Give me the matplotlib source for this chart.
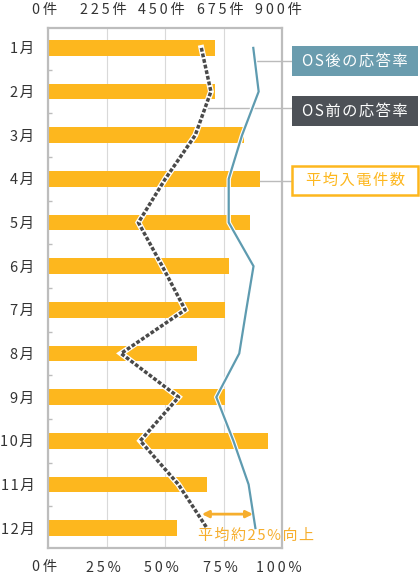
import numpy as np
import matplotlib
matplotlib.use("Agg")
import matplotlib.pyplot as plt
from matplotlib.transforms import ScaledTranslation
from matplotlib.patches import Rectangle

plt.rcParams['font.family'] = ['Noto Sans CJK JP', 'DejaVu Sans']

# ---- data ----
months = ['1月', '2月', '3月', '4月', '5月', '6月', '7月', '8月', '9月', '10月', '11月', '12月']
calls = [641, 641, 754, 814, 776, 696, 680, 571, 680, 845, 610, 495]          # 平均入電件数
rate_before = [65.4, 69.5, 62.8, 50.0, 38.5, 48.7, 58.5, 31.1, 55.7, 39.3, 55.6, 67.8]  # OS前
rate_after = [87.6, 89.9, 82.8, 77.1, 77.1, 87.7, 84.6, 81.6, 71.8, 79.1, 85.6, 88.5]   # OS後
count_ticks = [0, 225, 450, 675, 900]
count_labels = ['0件', '225件', '450件', '675件', '900件']
pct_ticks = [0, 25, 50, 75, 100]
pct_labels = ['0件', '25%', '50%', '75%', '100%']
legend_after = 'OS後の応答率'
legend_before = 'OS前の応答率'
legend_calls = '平均入電件数'
note = '平均約25%向上'

ORANGE = '#FDB71E'
BLUE = '#5E9BB0'
BLUE_BOX = '#6A9CAE'
DARK = '#4A4A4A'
DARK_BOX = '#4D5157'
TXT = '#333333'
FRAME = '#BDBDBD'
NOTE = '#F6AE2D'

def sp(s, ch='\u2009'):
    return ch.join(s)

W, H = 420, 576
fig = plt.figure(figsize=(W / 100, H / 100), dpi=100)
ax = fig.add_axes([48.3 / W, 28 / H, 234 / W, 520 / H])
ax2 = ax.twiny()

y = np.arange(len(months))
ax.barh(y, calls, height=0.36, color=ORANGE, zorder=2)
ax.set_xlim(0, 900)
ax.set_ylim(len(months) - 0.544, -0.456)
ax.set_axisbelow(True)
ax.xaxis.tick_top()
ax.set_xticks(count_ticks)
ax.set_xticklabels([sp(l) for l in count_labels], fontsize=10.3, color=TXT)
ax.tick_params(axis='x', length=0, pad=8)
ax.grid(axis='x', color='#D9D9D9', linewidth=0.8)
ax.set_yticks(y)
ax.set_yticklabels([sp(m, '\u200a') for m in months], fontsize=10.5, color=TXT)
ax.tick_params(axis='y', which='major', length=0, pad=10)
ax.set_yticks(y[:-1] + 0.5, minor=True)
ax.tick_params(axis='y', which='minor', direction='in', length=3, color=FRAME, width=1)
for s in ax.spines.values():
    s.set_color(FRAME)
    s.set_linewidth(1.6)

ax2.set_xlim(0, 100)
ax2.xaxis.tick_bottom()
ax2.set_xticks(pct_ticks)
ax2.set_xticklabels([sp(l) for l in pct_labels], fontsize=10.3, color=TXT)
ax2.tick_params(axis='x', length=0, pad=9)
for s in ax2.spines.values():
    s.set_visible(False)

off = ScaledTranslation(-3.5 / 100, 0, fig.dpi_scale_trans)
for lbl in ax.get_xticklabels() + ax2.get_xticklabels():
    lbl.set_transform(lbl.get_transform() + off)

# connectors to legend boxes (drawn under the lines)
box_x0 = 104.2  # percent units at box left edge
yc_after, yc_before, yc_calls = 0.30, 1.38, 3.05
xa = np.interp(yc_after, y, rate_after)
xb = np.interp(yc_before, y, rate_before)
xc = calls[3] / 9.0
for xs, yy in [(xa, yc_after), (xb, yc_before), (xc, yc_calls)]:
    ax2.plot([xs, box_x0], [yy, yy], color='#BBBBBB', lw=1, clip_on=False, zorder=1)

# lines
ax2.plot(rate_after, y, color='white', lw=3.2, zorder=3, solid_joinstyle='miter')
ax2.plot(rate_after, y, color=BLUE, lw=1.6, zorder=4, solid_joinstyle='miter')
ax2.plot(rate_before, y, color='white', lw=4.2, zorder=3, solid_joinstyle='miter')
ax2.plot(rate_before, y, color=DARK, lw=2.5, zorder=4, linestyle=(0, (1.1, 0.55)))

# improvement arrow
ax2.annotate('', xy=(87.5, 10.68), xytext=(65.6, 10.68),
             arrowprops=dict(arrowstyle='<|-|>', color=NOTE, lw=2, mutation_scale=10,
                             shrinkA=0, shrinkB=0), zorder=5)
fig.text(198 / W, 1 - 536 / H, sp(note, '\u200a'), fontsize=10.8, color=NOTE, ha='left', va='center')

# legend boxes
def box(y0, y1, face, edge, text, tcolor, lw=0):
    r = Rectangle((292 / W, 1 - y1 / H), (418 - 292) / W, (y1 - y0) / H,
                  transform=fig.transFigure, facecolor=face, edgecolor=edge, linewidth=lw)
    fig.add_artist(r)
    fig.text(355 / W, 1 - (y0 + y1) / 2 / H, sp(text, '\u200a'), fontsize=11, color=tcolor,
             ha='center', va='center')

box(46, 76, BLUE_BOX, BLUE_BOX, legend_after, 'white')
box(96, 126, DARK_BOX, DARK_BOX, legend_before, 'white')
box(166, 195, 'white', ORANGE, legend_calls, ORANGE, lw=1.8)

fig.savefig('out.png', dpi=100)
